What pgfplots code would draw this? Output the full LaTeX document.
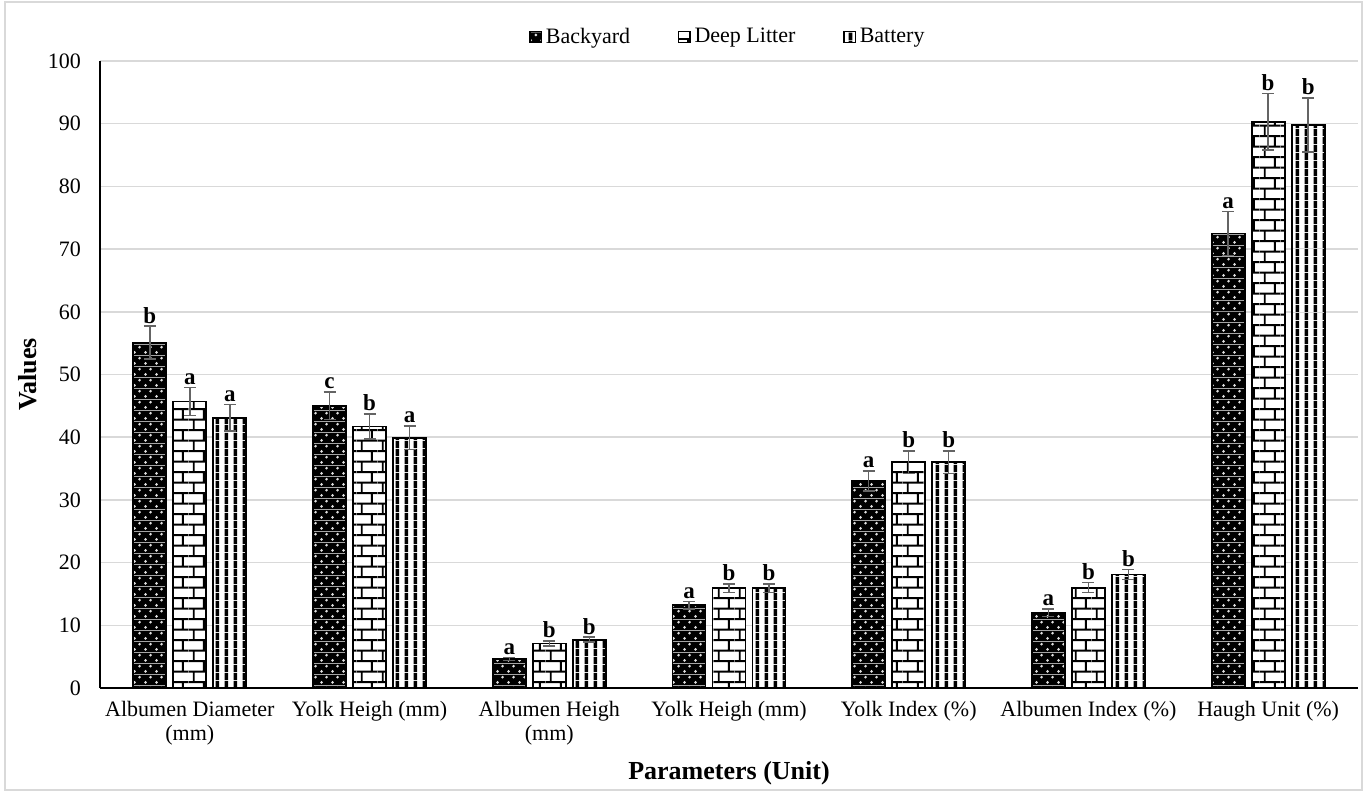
\documentclass[border=0pt]{standalone}
\usepackage{fontspec}
\setmainfont{Liberation Serif}
\usepackage{pgfplots}
\pgfplotsset{compat=1.18}
\usepackage{pgfplotstable}
\usetikzlibrary{patterns}
\definecolor{dotc}{gray}{0.88}
\definecolor{gridc}{HTML}{D9D9D9}
\definecolor{errc}{HTML}{646464}
\definecolor{framec}{HTML}{D9D9D9}

\pgfdeclarepatterninherentlycolored{bydots}{\pgfpointorigin}{\pgfqpoint{5.5pt}{5.35pt}}{\pgfqpoint{5.5pt}{5.35pt}}{%
  \pgfsetfillcolor{black}%
  \pgfpathrectangle{\pgfpointorigin}{\pgfqpoint{5.5pt}{5.35pt}}\pgfusepath{fill}%
  \pgfsetfillcolor{dotc}%
  \pgfpathcircle{\pgfqpoint{1.375pt}{1.34pt}}{0.75pt}%
  \pgfpathcircle{\pgfqpoint{4.125pt}{4.01pt}}{0.75pt}%
  \pgfusepath{fill}}

\pgfdeclarepatterninherentlycolored{deepbricks}{\pgfpointorigin}{\pgfqpoint{10.5pt}{10.7pt}}{\pgfqpoint{10.5pt}{10.7pt}}{%
  \pgfsetfillcolor{white}%
  \pgfpathrectangle{\pgfpointorigin}{\pgfqpoint{10.5pt}{10.7pt}}\pgfusepath{fill}%
  \pgfsetstrokecolor{black}\pgfsetlinewidth{1pt}%
  \pgfpathmoveto{\pgfqpoint{0pt}{2pt}}\pgfpathlineto{\pgfqpoint{10.5pt}{2pt}}%
  \pgfpathmoveto{\pgfqpoint{0pt}{7.35pt}}\pgfpathlineto{\pgfqpoint{10.5pt}{7.35pt}}%
  \pgfpathmoveto{\pgfqpoint{2.5pt}{2pt}}\pgfpathlineto{\pgfqpoint{2.5pt}{7.35pt}}%
  \pgfpathmoveto{\pgfqpoint{7.75pt}{7.35pt}}\pgfpathlineto{\pgfqpoint{7.75pt}{10.7pt}}%
  \pgfpathmoveto{\pgfqpoint{7.75pt}{0pt}}\pgfpathlineto{\pgfqpoint{7.75pt}{2pt}}%
  \pgfusepath{stroke}}

\pgfdeclarepatterninherentlycolored{batlines}{\pgfpointorigin}{\pgfqpoint{4.65pt}{4pt}}{\pgfqpoint{4.65pt}{4pt}}{%
  \pgfsetfillcolor{white}%
  \pgfpathrectangle{\pgfpointorigin}{\pgfqpoint{4.65pt}{4pt}}\pgfusepath{fill}%
  \pgfsetfillcolor{black}%
  \pgfpathrectangle{\pgfqpoint{1.4pt}{0pt}}{\pgfqpoint{1.9pt}{4pt}}\pgfusepath{fill}}

\pgfplotstableread{
x y err lab
0 55.1 2.6 b
1 45.0 2.2 c
2 4.6 0.25 a
3 13.2 0.6 a
4 33.0 1.6 a
5 12.0 0.6 a
6 72.5 3.5 a
}\backyard
\pgfplotstableread{
x y err lab
0 45.7 2.2 a
1 41.7 2.0 b
2 7.1 0.4 b
3 15.9 0.7 b
4 36.0 1.8 b
5 16.0 0.8 b
6 90.3 4.5 b
}\deeplitter
\pgfplotstableread{
x y err lab
0 43.1 2.1 a
1 39.9 1.9 a
2 7.7 0.4 b
3 15.9 0.7 b
4 36.0 1.8 b
5 18.1 0.8 b
6 89.8 4.3 b
}\battery

\begin{document}
\begin{tikzpicture}
\useasboundingbox (-50pt,-52pt) rectangle (632pt,344pt);
\draw[framec, line width=0.8pt] (-47.5pt,-51pt) rectangle (631pt,343pt);
\begin{axis}[
  at={(0pt,0pt)}, anchor=south west,
  scale only axis,
  width=629pt, height=313.5pt,
  xmin=-0.5, xmax=6.5, ymin=0, ymax=100,
  ybar=3.5pt, bar width=16.5pt,
  axis x line*=bottom, axis y line*=left,
  axis line style={-, black, line width=0.7pt},
  xtick={0,...,6},
  xticklabels={{Albumen Diameter\\(mm)},{Yolk Heigh (mm)},{Albumen Heigh\\(mm)},{Yolk Heigh (mm)},{Yolk Index (\%)},{Albumen Index (\%)},{Haugh Unit (\%)}},
  xticklabel style={align=center, font=\fontsize{11}{12}\selectfont, yshift=-3pt},
  ytick={0,10,...,100},
  yticklabel style={font=\fontsize{11}{12}\selectfont, xshift=-6pt},
  /pgf/number format/assume math mode=true,
  major tick length=0pt,
  ymajorgrids, grid style={gridc, line width=0.75pt},
  xlabel={Parameters (Unit)},
  ylabel={Values},
  xlabel style={font=\bfseries\fontsize{13}{14}\selectfont, at={(axis description cs:0.5,-0.1356)}, anchor=center},
  ylabel style={font=\bfseries\fontsize{13}{14}\selectfont, at={(axis description cs:-0.0572,0.5)}, anchor=center},
  legend style={at={(axis description cs:0.5,1)}, anchor=center, yshift=12pt, draw=none, fill=none,
    font=\fontsize{11}{12}\selectfont, legend columns=-1,
    /tikz/every even column/.append style={column sep=22pt},
    /tikz/every odd column/.append style={column sep=0pt}},
  legend image code/.code={\draw[#1, line width=0.6pt] (0pt,-2.8pt) rectangle (5.6pt,2.8pt);},
  error bars/y dir=both, error bars/y explicit,
  error bars/error bar style={errc, line width=0.75pt},
  error bars/error mark options={rotate=90, errc, line width=0.75pt, mark size=3pt},
  nodes near coords,
  point meta=explicit symbolic,
  visualization depends on={\thisrow{err} \as \myerr},
  every node near coord/.append style={font=\bfseries\fontsize{11.5}{12}\selectfont, anchor=south, inner sep=1pt, yshift={\myerr*3.135pt}, black},
]
\addplot[draw=black, line width=0.9pt, pattern=bydots] table[x=x, y=y, y error=err, meta=lab] {\backyard};
\addplot[draw=black, line width=0.9pt, pattern=deepbricks] table[x=x, y=y, y error=err, meta=lab] {\deeplitter};
\addplot[draw=black, line width=0.9pt, pattern=batlines] table[x=x, y=y, y error=err, meta=lab] {\battery};
\legend{Backyard, Deep Litter, Battery}
\end{axis}
\end{tikzpicture}
\end{document}
